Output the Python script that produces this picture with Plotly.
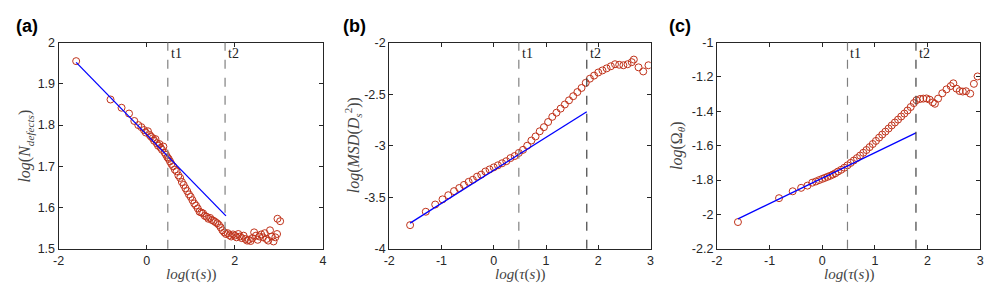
import plotly.graph_objects as go

# ---------------- data ----------------
# panel (a): log(N_defects) vs log(tau)
xa = [-1.60, -0.82, -0.57, -0.40, -0.28, -0.19, -0.12, -0.06, -0.02, 0.03, 0.07, 0.10, 0.14, 0.17,
      0.20, 0.23, 0.26, 0.29, 0.32, 0.35, 0.38, 0.41, 0.44, 0.47, 0.50, 0.53, 0.56, 0.60, 0.64,
      0.68, 0.72, 0.76, 0.80, 0.84, 0.88, 0.92, 0.96, 1.00, 1.04, 1.08, 1.12, 1.16, 1.20, 1.24,
      1.28, 1.32, 1.36, 1.40, 1.44, 1.48, 1.52, 1.56, 1.60, 1.64, 1.68, 1.72, 1.76, 1.80, 1.84,
      1.88, 1.92, 1.96, 2.00, 2.04, 2.08, 2.12, 2.16, 2.20, 2.24, 2.28, 2.32, 2.36, 2.40, 2.44,
      2.48, 2.52, 2.56, 2.60, 2.64, 2.68, 2.72, 2.76, 2.80, 2.84, 2.88, 2.92, 2.96, 2.97, 3.03]
ya = [1.955, 1.862, 1.842, 1.828, 1.810, 1.800, 1.795, 1.788, 1.782, 1.785, 1.776, 1.772, 1.768, 1.762,
      1.766, 1.756, 1.750, 1.754, 1.745, 1.740, 1.748, 1.733, 1.728, 1.722, 1.718, 1.712, 1.706, 1.700, 1.692,
      1.688, 1.678, 1.672, 1.662, 1.655, 1.647, 1.640, 1.632, 1.626, 1.618, 1.610, 1.605, 1.598, 1.590, 1.588,
      1.586, 1.580, 1.578, 1.573, 1.575, 1.570, 1.568, 1.565, 1.562, 1.558, 1.552, 1.545, 1.540, 1.536, 1.538,
      1.533, 1.530, 1.535, 1.532, 1.528, 1.536, 1.530, 1.526, 1.532, 1.524, 1.520, 1.522, 1.519, 1.526, 1.540,
      1.532, 1.522, 1.530, 1.535, 1.528, 1.538, 1.524, 1.520, 1.545, 1.530, 1.518, 1.528, 1.536, 1.573, 1.567]
fit_a_x = [-1.60, 1.80]
fit_a_y = [1.952, 1.580]

# panel (b): log(MSD(D_s^2)) vs log(tau)
xb = [-1.60, -1.30, -1.12, -0.98, -0.87, -0.76, -0.66, -0.57, -0.48, -0.40, -0.32, -0.24, -0.16, -0.08,
      0.00, 0.08, 0.16, 0.24, 0.32, 0.40, 0.48, 0.56, 0.64, 0.72, 0.80, 0.88, 0.96, 1.04, 1.12, 1.20,
      1.28, 1.36, 1.44, 1.52, 1.60, 1.68, 1.76, 1.84, 1.92, 2.00, 2.08, 2.16, 2.24, 2.32, 2.40, 2.48,
      2.56, 2.64, 2.68, 2.77, 2.86, 2.96]
yb = [-3.77, -3.64, -3.57, -3.52, -3.48, -3.44, -3.41, -3.38, -3.35, -3.33, -3.30, -3.28, -3.25, -3.23,
      -3.21, -3.19, -3.17, -3.15, -3.12, -3.10, -3.07, -3.04, -3.00, -2.95, -2.91, -2.86, -2.82, -2.77, -2.72, -2.68,
      -2.64, -2.60, -2.56, -2.52, -2.48, -2.44, -2.39, -2.35, -2.32, -2.29, -2.27, -2.25, -2.23, -2.21, -2.215, -2.22,
      -2.21, -2.19, -2.165, -2.24, -2.28, -2.22]
fit_b_x = [-1.60, 1.78]
fit_b_y = [-3.75, -2.67]

# panel (c): log(Omega_theta) vs log(tau)
xc = [-1.60, -0.82, -0.56, -0.40, -0.28, -0.19, -0.12, -0.06, 0.00, 0.05, 0.10, 0.15, 0.20, 0.25, 0.30,
      0.36, 0.42, 0.48, 0.54, 0.60, 0.66, 0.72, 0.78, 0.84, 0.90, 0.96, 1.02, 1.08, 1.14, 1.20, 1.26,
      1.32, 1.38, 1.44, 1.50, 1.56, 1.62, 1.68, 1.74, 1.79, 1.86, 1.92, 1.98, 2.04, 2.10, 2.14, 2.20,
      2.28, 2.36, 2.44, 2.49, 2.55, 2.61, 2.67, 2.73, 2.81, 2.88, 2.95]
yc = [-2.044, -1.905, -1.865, -1.845, -1.832, -1.815, -1.808, -1.800, -1.793, -1.787, -1.781, -1.775, -1.768,
      -1.760, -1.750, -1.740, -1.728, -1.714, -1.700, -1.686, -1.672, -1.657, -1.641, -1.625, -1.608, -1.590,
      -1.572, -1.553, -1.535, -1.518, -1.500, -1.482, -1.465, -1.448, -1.430, -1.413, -1.395, -1.375, -1.352,
      -1.335, -1.328, -1.326, -1.325, -1.332, -1.348, -1.356, -1.326, -1.295, -1.272, -1.253, -1.237, -1.268,
      -1.282, -1.285, -1.283, -1.297, -1.240, -1.197]
fit_c_x = [-1.60, 1.78]
fit_c_y = [-2.025, -1.525]

t1 = 0.48
t2 = 1.78

# ticks
xt_a = [-2, 0, 2, 4]
xt_a_text = ["-2", "0", "2", "4"]
yt_a = [1.5, 1.6, 1.7, 1.8, 1.9, 2.0]
yt_a_text = ["1.5", "1.6", "1.7", "1.8", "1.9", "2"]
xt_bc = [-2, -1, 0, 1, 2, 3]
xt_bc_text = ["-2", "-1", "0", "1", "2", "3"]
yt_b = [-4, -3.5, -3, -2.5, -2]
yt_b_text = ["-4", "-3.5", "-3", "-2.5", "-2"]
yt_c = [-2.2, -2.0, -1.8, -1.6, -1.4, -1.2, -1.0]
yt_c_text = ["-2.2", "-2", "-1.8", "-1.6", "-1.4", "-1.2", "-1"]

# ---------------- figure ----------------
W, H = 997, 284
RED = "#c0321a"
BLUE = "#0000ff"
AXC = "#262626"
SERIF = "Liberation Serif, Times New Roman, serif"
SANS = "Liberation Sans, Arial, sans-serif"

fig = go.Figure()

panels = [
    dict(x=xa, y=ya, fx=fit_a_x, fy=fit_a_y, xr=[-2, 4], yr=[1.5, 2.0], xt=xt_a, xtt=xt_a_text,
         yt=yt_a, ytt=yt_a_text, left=45, right=312, t2c="#808080", lab="(a)", labx=0, ytx=12,
         ytitle="<i>log</i>(<i>N</i><sub><i>defects</i></sub>)"),
    dict(x=xb, y=yb, fx=fit_b_x, fy=fit_b_y, xr=[-2, 3], yr=[-4, -2], xt=xt_bc, xtt=xt_bc_text,
         yt=yt_b, ytt=yt_b_text, left=379, right=643, t2c="#404040", lab="(b)", labx=330, ytx=342,
         ytitle="<i>log</i>(<i>MSD</i>(<i>D</i><sub><i>s</i></sub><sup>2</sup>))"),
    dict(x=xc, y=yc, fx=fit_c_x, fy=fit_c_y, xr=[-2, 3], yr=[-2.2, -1.0], xt=xt_bc, xtt=xt_bc_text,
         yt=yt_c, ytt=yt_c_text, left=710, right=976, t2c="#404040", lab="(c)", labx=660, ytx=670,
         ytitle="<i>log</i>(Ω<sub><i>θ</i></sub>)"),
]

top_px, bot_px = 29, 246
ydom = [1 - bot_px / H, 1 - top_px / H]
annotations = []
shapes = []
for i, p in enumerate(panels, start=1):
    xs = "x" if i == 1 else f"x{i}"
    ys = "y" if i == 1 else f"y{i}"
    fig.add_trace(go.Scatter(x=p["x"], y=p["y"], mode="markers", xaxis=xs, yaxis=ys,
                             marker=dict(symbol="circle-open", size=7, color=RED,
                                         line=dict(width=1, color=RED)),
                             showlegend=False, hoverinfo="skip"))
    fig.add_trace(go.Scatter(x=p["fx"], y=p["fy"], mode="lines", xaxis=xs, yaxis=ys,
                             line=dict(color=BLUE, width=1.3), showlegend=False, hoverinfo="skip"))
    axcommon = dict(showgrid=False, zeroline=False, showline=True, linecolor=AXC, linewidth=1,
                    mirror="ticks", ticks="inside", ticklen=4, tickcolor=AXC, tickwidth=1,
                    tickfont=dict(family=SANS, size=12.5, color=AXC))
    fig.update_layout(**{
        ("xaxis" if i == 1 else f"xaxis{i}"): dict(domain=[p["left"] / W, p["right"] / W], range=p["xr"],
                                                   tickvals=p["xt"], ticktext=p["xtt"], anchor=ys, **axcommon),
        ("yaxis" if i == 1 else f"yaxis{i}"): dict(domain=ydom, range=p["yr"], tickvals=p["yt"],
                                                   ticktext=p["ytt"], anchor=xs, **axcommon),
    })
    for tv, col, name in [(t1, "#808080", "t1"), (t2, p["t2c"], "t2")]:
        shapes.append(dict(type="line", xref=xs, yref=f"{ys} domain", x0=tv, x1=tv, y0=0, y1=1,
                           line=dict(color=col, width=1.2, dash="dash")))
        annotations.append(dict(x=tv, y=1, xref=xs, yref=f"{ys} domain", text=name, showarrow=False,
                                xanchor="left", yanchor="top", xshift=1, yshift=-1,
                                font=dict(family=SERIF, size=14, color="#222222")))
    # panel label
    annotations.append(dict(x=p["labx"] / W, y=1 - 12 / H, xref="paper", yref="paper", text=f"<b>{p['lab']}</b>",
                            showarrow=False, xanchor="left", yanchor="middle",
                            font=dict(family=SANS, size=18, color="#000000")))
    # x title
    annotations.append(dict(x=(p["left"] + p["right"]) / 2 / W, y=1 - 273 / H, xref="paper", yref="paper",
                            text="<i>log</i>(<i>τ</i>(<i>s</i>))", showarrow=False, xanchor="center",
                            yanchor="middle", font=dict(family=SERIF, size=15, color="#444444")))
    # y title
    annotations.append(dict(x=p["ytx"] / W, y=(ydom[0] + ydom[1]) / 2, xref="paper", yref="paper",
                            text=p["ytitle"], showarrow=False, textangle=-90, xanchor="center",
                            yanchor="middle", font=dict(family=SERIF, size=16, color="#444444")))

fig.update_layout(width=W, height=H, margin=dict(l=0, r=0, t=0, b=0), paper_bgcolor="white",
                  plot_bgcolor="white", shapes=shapes, annotations=annotations, showlegend=False)

fig.write_html("out.html", config={"displayModeBar": False})
